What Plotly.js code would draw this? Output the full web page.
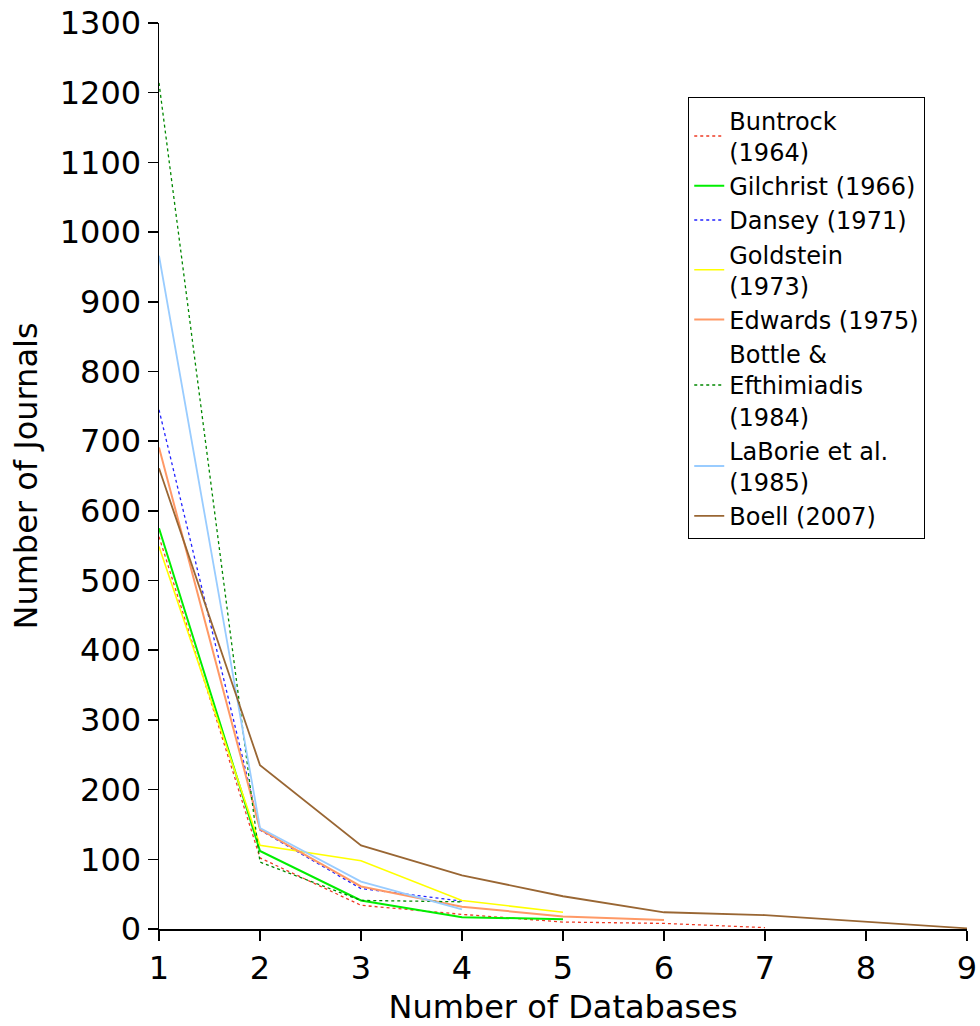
<!DOCTYPE html>
<html>
<head>
<meta charset="utf-8">
<script src="https://cdn.plot.ly/plotly-3.0.1.min.js"></script>
<style>html,body{margin:0;padding:0;background:#fff}#chart{width:980px;height:1026px}</style>
</head>
<body>
<div id="chart"></div>
<script>
const seriesNames = ["Buntrock<br>(1964)", "Gilchrist (1966)", "Dansey (1971)", "Goldstein<br>(1973)", "Edwards (1975)", "Bottle &<br>Efthimiadis<br>(1984)", "LaBorie et al.<br>(1985)", "Boell (2007)"];
const buntrockX = [1, 2, 3, 4, 5, 6, 7];
const buntrockY = [563, 102, 34, 21, 10, 8, 2];
const gilchristX = [1, 2, 3, 4, 5];
const gilchristY = [575, 112, 41, 17, 14];
const danseyX = [1, 2, 3, 4];
const danseyY = [745, 142, 58, 40];
const goldsteinX = [1, 2, 3, 4, 5];
const goldsteinY = [549, 120, 98, 41, 24];
const edwardsX = [1, 2, 3, 4, 5, 6];
const edwardsY = [691, 143, 61, 32, 18, 13];
const bottleX = [1, 2, 3, 4];
const bottleY = [1214, 96, 41, 39];
const laborieX = [1, 2, 3, 4];
const laborieY = [966, 145, 68, 28];
const boellX = [1, 2, 3, 4, 5, 6, 7, 8, 9];
const boellY = [661, 235, 120, 77, 47, 24, 20, 11, 1];
const xTicks = [1, 2, 3, 4, 5, 6, 7, 8, 9];
const yTicks = [0, 100, 200, 300, 400, 500, 600, 700, 800, 900, 1000, 1100, 1200, 1300];

const xs = [buntrockX, gilchristX, danseyX, goldsteinX, edwardsX, bottleX, laborieX, boellX];
const ys = [buntrockY, gilchristY, danseyY, goldsteinY, edwardsY, bottleY, laborieY, boellY];
const colors = ["#ee3b25", "#00ee00", "#2222ff", "#ffff00", "#ff9966", "#008800", "#99ccff", "#996633"];
const dashes = ["dot", "solid", "dot", "solid", "solid", "dot", "solid", "solid"];
const widths = [1.3, 2, 1.3, 1.6, 2, 1.3, 1.8, 1.8];

const traces = seriesNames.map((n, i) => ({
  type: "scatter", mode: "lines", name: n,
  x: xs[i], y: ys[i],
  line: {color: colors[i], dash: dashes[i], width: widths[i]}
}));

const layout = {
  width: 980, height: 1026,
  margin: {l: 159, r: 13, t: 23, b: 97},
  paper_bgcolor: "#fff", plot_bgcolor: "#fff",
  font: {family: "DejaVu Sans", color: "#000"},
  showlegend: true,
  legend: {
    x: 0.655, y: 0.918, xanchor: "left", yanchor: "top",
    bordercolor: "#000", borderwidth: 1, bgcolor: "#fff",
    font: {size: 24, family: "DejaVu Sans"},
    itemwidth: 30
  },
  xaxis: {
    range: [1, 9], tickvals: xTicks, ticktext: xTicks.map(String),
    showgrid: false, zeroline: false, showline: true, linecolor: "#000", linewidth: 1.5,
    ticks: "outside", ticklen: 10, tickcolor: "#000", tickwidth: 1.5,
    tickfont: {size: 32}, title: {text: "Number of Databases", font: {size: 32}, standoff: 14}
  },
  yaxis: {
    range: [0, 1300], tickvals: yTicks, ticktext: yTicks.map(String),
    showgrid: false, zeroline: false, showline: true, linecolor: "#000", linewidth: 1.5,
    ticks: "outside", ticklen: 10, tickcolor: "#000", tickwidth: 1.5,
    tickfont: {size: 32}, title: {text: "Number of Journals", font: {size: 32}, standoff: 12}
  }
};
Plotly.newPlot("chart", traces, layout, {staticPlot: true, displayModeBar: false});
</script>
</body>
</html>
